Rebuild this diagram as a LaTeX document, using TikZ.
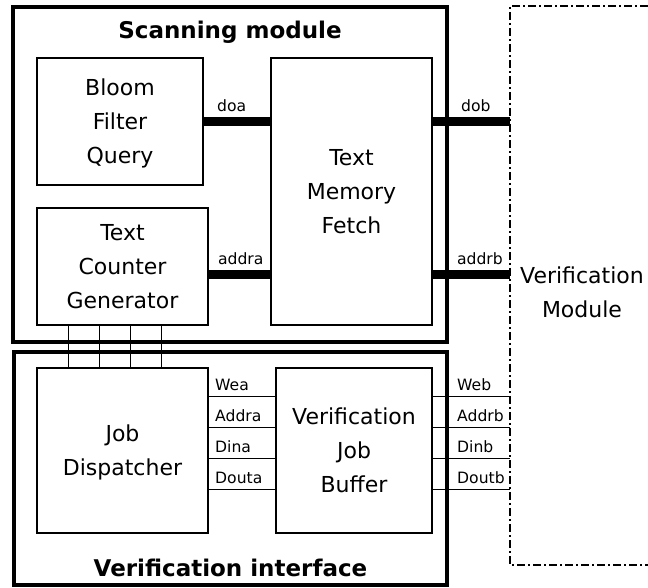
\documentclass[tikz,border=0pt]{standalone}
\usepackage{fontspec}
\setmainfont{DejaVu Sans}
\usetikzlibrary{positioning,calc}
\newcommand{\unitfont}{\fontsize{11}{17}\selectfont}
\newcommand{\sigfont}{\fontsize{7.8}{9}\selectfont}
\newcommand{\titlefont}{\fontsize{11.5}{14}\selectfont\bfseries}
\tikzset{
  modbox/.style={draw, line width=2pt, inner sep=0pt},
  unitbox/.style={
    draw, line width=0.6pt, align=center,
    font=\unitfont, inner sep=0pt, text depth=-3.5pt
  },
  bus/.style={line width=4.5pt},
  wire/.style={line width=0.6pt},
  sig/.style={font=\sigfont, inner sep=1pt, anchor=south west},
  modtitle/.style={font=\titlefont},
  vmframe/.style={line width=0.6pt, dash pattern=on 4pt off 1.6pt on 0.8pt off 1.6pt}
}

\begin{document}
\begin{tikzpicture}[x=0.5pt, y=-0.5pt]
\useasboundingbox (0,0) rectangle (648,588);

%--------------------------------------------------
% Module frames
%--------------------------------------------------
\node[modbox, minimum width=217pt, minimum height=167.5pt] (scan) at (230,174.5) {};
\node[modtitle] (scantitle) at ([yshift=-13.5pt]scan.north) {Scanning module};

\node[modbox, minimum width=216.5pt, minimum height=116.5pt] (vif) at (230.5,468.5) {};
\node[modtitle] (viftitle) at ([yshift=9.5pt]vif.south) {Verification interface};

% verification module (open to the right)
\coordinate (vmtr) at (648,6);
\coordinate (vmtl) at (510,6);
\coordinate (vmbl) at (510,565);
\coordinate (vmbr) at (648,565);
\draw[vmframe] (vmtr) -- (vmtl) -- (vmbl) -- (vmbr);
\node[font=\unitfont, align=center] (vmtext) at (582,292) {Verification\\Module};

%--------------------------------------------------
% Scanning units
%--------------------------------------------------
\node[unitbox, minimum width=83pt, minimum height=63.5pt] (bloom) at (120,121.5)
{Bloom\\Filter\\Query};

\node[unitbox, minimum width=85.5pt, minimum height=58.5pt] (tcg) at (122.5,266.5)
{Text\\Counter\\Generator};

\node[unitbox, minimum width=80.5pt, minimum height=133.5pt] (tmf) at (351.5,191.5)
{Text\\Memory\\Fetch};

% wide buses
\draw[bus] (bloom.east) -- (bloom.east -| tmf.west)
  node[sig, at start, xshift=3.5pt, yshift=1.8pt] {doa};
\draw[bus] ([yshift=-4.25pt]tcg.east) -- ([yshift=-4.25pt]tcg.east -| tmf.west)
  node[sig, at start, xshift=1.5pt, yshift=1.8pt] {addra};

\draw[bus] (bloom.east -| tmf.east) -- (bloom.east -| vmtl)
  node[sig, at start, xshift=11pt, yshift=1.8pt] {dob};
\draw[bus] ([yshift=-4.25pt]tcg.east -| tmf.east) -- ([yshift=-4.25pt]tcg.east -| vmtl)
  node[sig, at start, xshift=9pt, yshift=1.8pt] {addrb};

%--------------------------------------------------
% Interface units
%--------------------------------------------------
\node[unitbox, minimum width=85.5pt, minimum height=82.5pt] (jd) at (122.5,450.5)
{Job\\Dispatcher};

\node[unitbox, minimum width=78pt, minimum height=82.5pt] (vjb) at (354,450.5)
{Verification\\Job\\Buffer};

% counter lines down to the dispatcher
\foreach \dx in {16,31.5,47,62.5}
  \draw[wire] ([xshift=\dx pt]jd.north west) -- ([xshift=\dx pt]jd.north west |- tcg.south);

% port lines
\foreach \dy/\pa/\pb in {14.5/Wea/Web, 30/Addra/Addrb, 45.5/Dina/Dinb, 61/Douta/Doutb} {
  \draw[wire] ([yshift=-\dy pt]jd.north east) -- ([yshift=-\dy pt]jd.north east -| vjb.west)
    node[sig, at start, xshift=2pt, yshift=1.5pt] {\pa};
  \draw[wire] ([yshift=-\dy pt]vjb.north east) -- ([yshift=-\dy pt]vjb.north east -| vmtl)
    node[sig, at start, xshift=11pt, yshift=1.5pt] {\pb};
}

\end{tikzpicture}
\end{document}
